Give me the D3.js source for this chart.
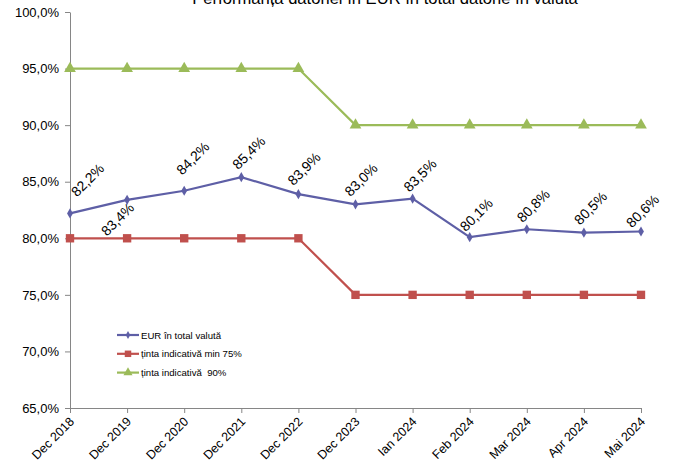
<!DOCTYPE html>
<html><head><meta charset="utf-8">
<script src="https://cdn.jsdelivr.net/npm/d3@7"></script>
<style>body{margin:0;background:#fff}svg{display:block;font-family:"Liberation Sans",Arial,sans-serif}</style>
</head><body><svg id="c" width="676" height="472"></svg>
<script>
const categories = ["Dec 2018","Dec 2019","Dec 2020","Dec 2021","Dec 2022","Dec 2023","Ian 2024","Feb 2024","Mar 2024","Apr 2024","Mai 2024"];
const eurValues = [82.2,83.4,84.2,85.4,83.9,83.0,83.5,80.1,80.8,80.5,80.6];
const target75 = [80,80,80,80,80,75,75,75,75,75,75];
const target90 = [95,95,95,95,95,90,90,90,90,90,90];
const yTicks = [65,70,75,80,85,90,95,100];
const seriesNames = ["EUR în total valută","ținta indicativă min 75%","ținta indicativă  90%"];
const title = "Performanța datoriei în EUR în total datorie în valută";

// label placement offsets (layout only)
const labelOffsets = [[7,-16],[-20,37],[-2,-15],[-3,-7],[-5,-8],[-5,-7],[-3,-6],[-4,-5],[-4,-6],[-4,-7],[-9,-3]];

const svg = d3.select("#c");
const fmt = v => d3.format(".1f")(v).replace(".", ",") + "%";
const x = d3.scalePoint().domain(categories).range([70, 641]);
const y = d3.scaleLinear().domain([65, 100]).range([408, 12]);
const FF = "Liberation Sans, Arial, sans-serif";

svg.append("text").attr("x", 385).attr("y", 4).attr("text-anchor","middle")
  .attr("font-size", 16.6).attr("fill","#000").text(title);

const yAxis = svg.append("g").attr("transform","translate(70,0)")
  .call(d3.axisLeft(y).tickValues(yTicks).tickSize(5).tickSizeOuter(0).tickFormat(fmt).tickPadding(6));
yAxis.selectAll("text").attr("font-size", 13).attr("fill","#000").attr("font-family",FF);
yAxis.selectAll("line,path").attr("stroke","#868686");

const xAxis = svg.append("g").attr("transform","translate(0,408)")
  .call(d3.axisBottom(x).tickSize(5).tickSizeOuter(0).tickPadding(6));
xAxis.selectAll("text").attr("font-size", 12.5).attr("fill","#000").attr("font-family",FF)
  .attr("text-anchor","end").attr("dy","0.3em")
  .attr("transform","translate(-6,4) rotate(-45)");
xAxis.selectAll("line,path").attr("stroke","#868686");

const colors = ["#5e5fa6","#c0504d","#9bbb59"];
const data = [eurValues, target75, target90];
const line = d3.line().x((d,i)=>x(categories[i])).y(d=>y(d));
const sym = [d3.symbolDiamond, d3.symbolSquare, d3.symbolTriangle];
const symSize = [30, 70, 60];

[2,1,0].forEach(k => {
  svg.append("path").datum(data[k]).attr("d", line).attr("fill","none")
    .attr("stroke", colors[k]).attr("stroke-width", 2.2);
  svg.append("g").selectAll("path").data(data[k]).join("path")
    .attr("transform",(d,i)=>`translate(${x(categories[i])},${y(d)})`)
    .attr("d", d3.symbol(sym[k], symSize[k])).attr("fill", colors[k]);
});

// data labels for EUR series
svg.append("g").selectAll("text").data(eurValues).join("text")
  .attr("transform",(d,i)=>{
    const px = x(categories[i]) + labelOffsets[i][0], py = y(d) + labelOffsets[i][1];
    return `translate(${px},${py}) rotate(-45)`;
  })
  .attr("font-size", 14).attr("fill","#000").text(d=>fmt(d));

// legend
const lg = svg.append("g");
seriesNames.forEach((n,k)=>{
  const ly = 335 + k*18.8;
  lg.append("line").attr("x1",117).attr("x2",139).attr("y1",ly).attr("y2",ly)
    .attr("stroke",colors[k]).attr("stroke-width",2.2);
  lg.append("path").attr("transform",`translate(128,${ly})`)
    .attr("d", d3.symbol(sym[k], symSize[k]*0.6)).attr("fill",colors[k]);
  lg.append("text").attr("x",141).attr("y",ly+3.5).attr("font-size",9.6).attr("fill","#000")
    .style("white-space","pre").text(n);
});
</script></body></html>
